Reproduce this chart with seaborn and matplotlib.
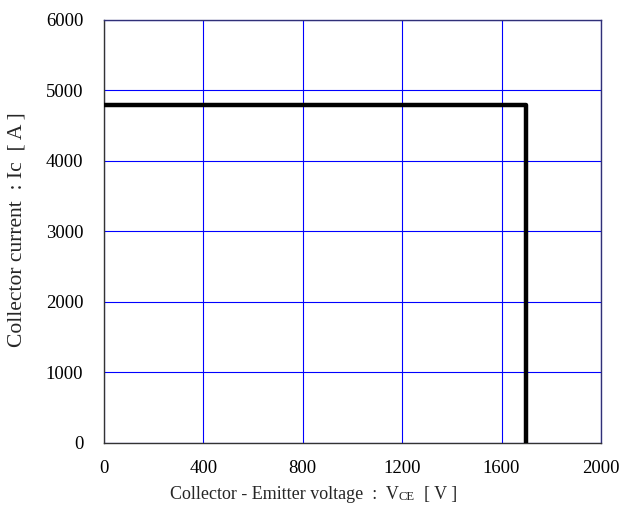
import numpy as np
import pandas as pd
import matplotlib
matplotlib.use("Agg")
import matplotlib.pyplot as plt
import seaborn as sns

# ---------------- DATA ----------------
vce = [0, 1700, 1700]      # collector-emitter voltage [V]
ic = [4800, 4800, 0]       # collector current [A]
x_ticks = [0, 400, 800, 1200, 1600, 2000]
y_ticks = [0, 1000, 2000, 3000, 4000, 5000, 6000]

sns.set_style("white")
plt.rcParams['font.family'] = ['Liberation Serif', 'DejaVu Serif']
FS = 13.5

fig = plt.figure(figsize=(6.22, 5.24), dpi=100)
ax = fig.add_axes([0.1672, 0.1546, 0.7990, 0.8073])

df = pd.DataFrame({"VCE": vce, "Ic": ic})
sns.lineplot(data=df, x="VCE", y="Ic", sort=False, estimator=None,
             color="black", linewidth=3.2, ax=ax, zorder=3)

ax.set_xlim(0, 2000)
ax.set_ylim(0, 6000)
ax.set_xticks(x_ticks)
ax.set_yticks(y_ticks)
ax.grid(True, color="#0000ff", linewidth=0.8)
ax.tick_params(length=0, labelsize=FS, colors="black")
ax.tick_params(axis="x", pad=12)
ax.tick_params(axis="y", pad=15)
for side in ["left", "bottom"]:
    ax.spines[side].set_color("#333333")
for side in ["top", "right"]:
    ax.spines[side].set_color("#303078")
for s in ax.spines.values():
    s.set_linewidth(1.0)

ax.set_xlabel("")
ax.set_ylabel("")
fig.text(0.028, 0.562, "Collector current  : Ic  [ A ]", rotation=90,
         ha="center", va="center", fontsize=15.5)

# x label with small "CE"
XFS = 13
t1 = fig.text(0.273, 0.047, "Collector - Emitter voltage  :  V", ha="left",
              va="baseline", fontsize=XFS)
t2 = ax.annotate("CE", xy=(1, 0), xycoords=t1, ha="left", va="bottom",
                 fontsize=XFS * 0.7, annotation_clip=False)
ax.annotate("  [ V ]", xy=(1, 0), xycoords=t2, ha="left", va="bottom",
            fontsize=XFS, annotation_clip=False)

fig.savefig("out.png", dpi=100)
